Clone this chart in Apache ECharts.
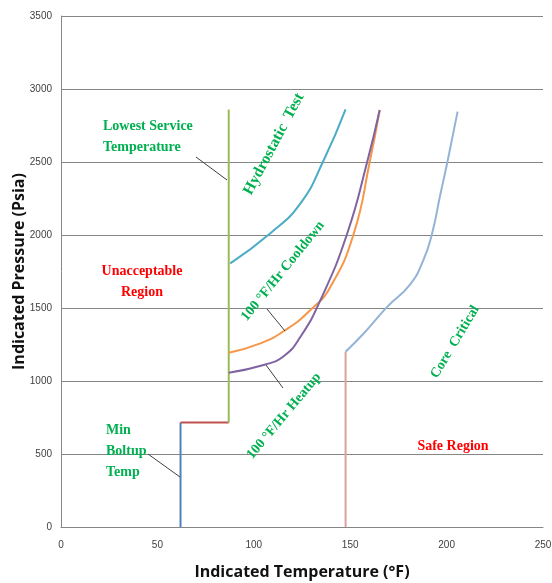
<!DOCTYPE html>
<html><head><meta charset="utf-8">
<script src="https://cdn.jsdelivr.net/npm/echarts@6/dist/echarts.min.js"></script>
<style>html,body{margin:0;padding:0;background:#fff}#c{width:552px;height:583px}</style>
</head><body><div id="c"></div>
<script>
// ---- data (temperature °F, pressure psia) ----
const xTicks = [0, 50, 100, 150, 200, 250];
const yTicks = [0, 500, 1000, 1500, 2000, 2500, 3000, 3500];
const minBoltup = [[62, 0], [62, 716]];
const boltupStep = [[62, 716], [87, 716]];
const lowestService = [[87, 716], [87, 2860]];
const hydrostatic = [[87.8,1806],[108.6,2012],[124.2,2217],[136.3,2514],[147.6,2861]];
const cooldown = [[87,1194],[103.4,1258],[116.4,1349],[129.4,1486],[139.8,1646],[151.9,2012],[160.2,2505],[165.3,2856]];
const heatup = [[87,1057],[105.1,1110],[115.5,1170],[124.2,1303],[134.6,1555],[148.5,2012],[158.9,2505],[165.3,2856]];
const coreVertical = [[147.6, 0], [147.6, 1200]];
const coreCritical = [[147.6,1200],[157.1,1327],[169.3,1509],[181,1660],[188,1830],[192.5,2012],[196.5,2262],[200.5,2505],[205.7,2845]];

const GREEN = '#00b050', RED = '#ff0000';
const serif = '"Liberation Serif", "Times New Roman", serif';
function line(data, color, smooth) {
  return { type: 'line', data: data, showSymbol: false, symbol: 'none', smooth: smooth ? 0.5 : false,
    lineStyle: { color: color, width: 2 }, z: 3, animation: false };
}
function txt(x, y, text, color, opts) {
  return Object.assign({ type: 'text', x: x, y: y, z: 10,
    style: Object.assign({ text: text, fill: color, font: 'bold 14px ' + serif, align: 'left', verticalAlign: 'middle', lineHeight: 21 }, opts && opts.style || {}) },
    opts && opts.el || {});
}
function rtxt(cx, cy, deg, text, size) {
  return { type: 'text', x: cx, y: cy, rotation: deg * Math.PI / 180, z: 10,
    style: { text: text, fill: GREEN, font: 'bold ' + size + 'px ' + serif, align: 'center', verticalAlign: 'middle' } };
}
function leader(x1, y1, x2, y2) {
  return { type: 'line', z: 9, shape: { x1: x1, y1: y1, x2: x2, y2: y2 }, style: { stroke: '#404040', lineWidth: 1 } };
}
const chart = echarts.init(document.getElementById('c'), null, { renderer: 'canvas' });
chart.setOption({
  animation: false,
  backgroundColor: '#fff',
  grid: { left: 61, right: 9, top: 16, bottom: 56, containLabel: false, outerBoundsMode: 'none' },
  xAxis: { type: 'value', min: xTicks[0], max: xTicks[xTicks.length - 1], interval: 50,
    name: 'Indicated Temperature (°F)', nameLocation: 'middle', nameGap: 37, nameMoveOverlap: false,
    nameTextStyle: { fontFamily: '"Open Sans", sans-serif', fontWeight: 'bold', fontSize: 16, color: '#111' },
    axisLine: { show: true, lineStyle: { color: '#868686', width: 1 } }, axisTick: { show: false },
    axisLabel: { color: '#404040', fontSize: 10, fontFamily: '"Liberation Sans", sans-serif', margin: 13, formatter: v => String(v) },
    splitLine: { show: false } },
  yAxis: { type: 'value', min: yTicks[0], max: yTicks[yTicks.length - 1], interval: 500,
    name: 'Indicated Pressure (Psia)', nameLocation: 'middle', nameGap: 34, nameMoveOverlap: false,
    nameTextStyle: { fontFamily: '"Open Sans", sans-serif', fontWeight: 'bold', fontSize: 16, color: '#111' },
    axisLine: { show: true, lineStyle: { color: '#868686', width: 1 } }, axisTick: { show: false },
    axisLabel: { color: '#404040', fontSize: 10, fontFamily: '"Liberation Sans", sans-serif', margin: 9, formatter: v => String(v) },
    splitLine: { show: true, lineStyle: { color: '#868686', width: 1 } } },
  series: [
    line(minBoltup, '#4f81bd'),
    line(boltupStep, '#c0504d'),
    line(lowestService, '#9bbb59'),
    line(hydrostatic, '#4bacc6', true),
    line(cooldown, '#f79646', true),
    line(heatup, '#8064a2', true),
    line(coreVertical, '#e0a0a0'),
    line(coreCritical, '#95b3d7', true)
  ],
  graphic: [
    txt(103, 126, 'Lowest Service\nTemperature', GREEN, { style: { verticalAlign: 'top' }, el: { y: 116 } }),
    txt(142, 282, 'Unacceptable\nRegion', RED, { style: { align: 'center' } }),
    txt(106, 451, 'Min\nBoltup\nTemp', GREEN),
    txt(453, 446, 'Safe Region', RED, { style: { align: 'center' } }),
    rtxt(274, 144, 62, 'Hydrostatic  Test', 15.5),
    rtxt(283, 271, 51, '100 °F/Hr Cooldown', 14),
    rtxt(284, 416, 50, '100 °F/Hr Heatup', 14),
    rtxt(455, 342, 59, 'Core  Critical', 14),
    leader(196, 157, 227, 180),
    leader(148, 454, 180, 477),
    leader(267, 309, 285, 331),
    leader(266, 365, 283, 388)
  ]
});
</script></body></html>
